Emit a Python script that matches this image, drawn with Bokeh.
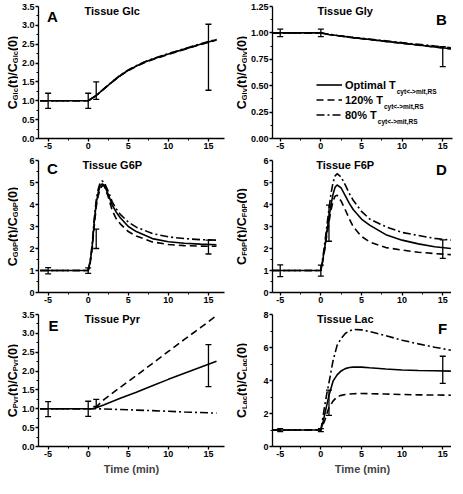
import math
from bokeh.plotting import figure
from bokeh.layouts import gridplot
from bokeh.models import (ColumnDataSource, Whisker, TeeHead, Label, Legend, LegendItem,
                          FixedTicker, PrintfTickFormatter, Range1d)
from bokeh.embed import file_html
from bokeh.resources import INLINE

FONT = "Liberation Sans"

# ---------------- data ----------------
X_TICKS = [-5, 0, 5, 10, 15]
X_MINOR = [-2.5, 2.5, 7.5, 12.5]

# A: Tissue Glc
glc_t = [-6, 0, 1, 2, 3, 4, 5, 6, 7, 8, 10, 12, 14, 16]
glc_opt = [1, 1, 1.14, 1.32, 1.50, 1.67, 1.81, 1.92, 2.02, 2.10, 2.24, 2.37, 2.50, 2.62]
glc_120 = [1, 1, 1.14, 1.32, 1.50, 1.66, 1.80, 1.91, 2.01, 2.09, 2.23, 2.36, 2.49, 2.61]
glc_80 = [1, 1, 1.14, 1.33, 1.51, 1.68, 1.82, 1.93, 2.03, 2.11, 2.25, 2.38, 2.51, 2.63]
glc_err_t = [-5, 0, 1, 15]
glc_err_lo = [0.80, 0.80, 1.04, 1.28]
glc_err_hi = [1.20, 1.20, 1.50, 3.03]

# B: Tissue Gly
gly_t = [-6, 0, 1, 2, 4, 6, 8, 10, 12, 14, 16]
gly_opt = [1, 1, 0.985, 0.975, 0.955, 0.938, 0.920, 0.903, 0.886, 0.868, 0.850]
gly_120 = [1, 1, 0.985, 0.974, 0.954, 0.937, 0.919, 0.901, 0.884, 0.866, 0.848]
gly_80 = [1, 1, 0.986, 0.976, 0.957, 0.941, 0.925, 0.908, 0.892, 0.876, 0.860]
gly_err_t = [-5, 0, 15]
gly_err_lo = [0.965, 0.965, 0.68]
gly_err_hi = [1.035, 1.035, 0.87]

# C: Tissue G6P
g6p_t = [-6, 0, 0.25, 0.5, 0.75, 1, 1.25, 1.5, 1.75, 2, 2.5, 3, 3.5, 4, 5, 6, 8, 10, 12, 14, 16]
g6p_opt = [1, 1, 1.40, 2.10, 3.20, 4.05, 4.55, 4.85, 4.94, 4.88, 4.46, 3.97, 3.65, 3.40, 3.00, 2.77, 2.45, 2.31, 2.24, 2.20, 2.17]
g6p_120 = [1, 1, 1.35, 2.00, 3.00, 3.90, 4.40, 4.72, 4.85, 4.84, 4.35, 3.72, 3.35, 3.12, 2.77, 2.57, 2.30, 2.18, 2.13, 2.11, 2.10]
g6p_80 = [1, 1, 1.45, 2.20, 3.35, 4.20, 4.70, 5.00, 5.07, 5.00, 4.60, 4.12, 3.80, 3.55, 3.20, 2.97, 2.68, 2.53, 2.45, 2.40, 2.38]
g6p_err_t = [-5, 0, 1, 15]
g6p_err_lo = [0.85, 0.87, 2.00, 1.75]
g6p_err_hi = [1.13, 1.12, 2.88, 2.38]

# D: Tissue F6P
f6p_t = [-6, 0, 0.25, 0.5, 0.75, 1, 1.25, 1.5, 1.75, 2, 2.5, 3, 3.5, 4, 5, 6, 8, 10, 12, 14, 16]
f6p_opt = [1, 1, 1.50, 2.10, 2.80, 3.40, 4.00, 4.46, 4.78, 4.89, 4.75, 4.40, 4.05, 3.76, 3.34, 3.06, 2.63, 2.38, 2.21, 2.08, 2.00]
f6p_120 = [1, 1, 1.45, 2.00, 2.65, 3.20, 3.75, 4.15, 4.38, 4.42, 4.15, 3.76, 3.35, 2.98, 2.55, 2.30, 2.04, 1.93, 1.83, 1.77, 1.72]
f6p_80 = [1, 1, 1.60, 2.30, 3.05, 3.80, 4.50, 5.00, 5.30, 5.40, 5.25, 4.89, 4.50, 4.18, 3.69, 3.34, 2.99, 2.73, 2.59, 2.46, 2.38]
f6p_err_t = [-5, 0, 1, 15]
f6p_err_lo = [0.72, 0.74, 2.33, 1.55]
f6p_err_hi = [1.26, 1.24, 3.97, 2.39]

# E: Tissue Pyr
pyr_t = [-6, 0, 0.5, 1, 2, 4, 6, 8, 10, 12, 14, 16]
pyr_opt = [1, 1, 1.00, 1.03, 1.11, 1.28, 1.44, 1.61, 1.78, 1.94, 2.10, 2.26]
pyr_120 = [1, 1, 1.00, 1.05, 1.25, 1.57, 1.88, 2.20, 2.52, 2.84, 3.15, 3.47]
pyr_80 = [1, 1, 1.00, 1.00, 0.995, 0.98, 0.965, 0.95, 0.935, 0.915, 0.90, 0.885]
pyr_err_t = [-5, 0, 1, 15]
pyr_err_lo = [0.79, 0.80, 1.06, 1.59]
pyr_err_hi = [1.19, 1.20, 1.25, 2.70]

# F: Tissue Lac
lac_t = [-6, 0, 0.25, 0.5, 0.75, 1, 1.5, 2, 2.5, 3, 3.5, 4, 5, 6, 8, 10, 12, 14, 16]
lac_opt = [1, 1, 1.45, 2.00, 2.55, 3.10, 3.96, 4.34, 4.58, 4.72, 4.79, 4.81, 4.81, 4.77, 4.70, 4.64, 4.61, 4.59, 4.57]
lac_120 = [1, 1, 1.30, 1.60, 2.00, 2.36, 2.75, 3.02, 3.10, 3.15, 3.18, 3.20, 3.21, 3.20, 3.18, 3.15, 3.13, 3.12, 3.11]
lac_80 = [1, 1, 1.75, 2.55, 3.25, 3.87, 5.20, 6.13, 6.55, 6.85, 7.00, 7.10, 7.07, 6.97, 6.72, 6.44, 6.22, 6.02, 5.83]
lac_err_t = [-5, 0, 1, 15]
lac_err_lo = [0.90, 0.90, 1.89, 3.83]
lac_err_hi = [1.08, 1.08, 3.42, 5.47]

LEGEND_LABELS = ["Optimal T", "120% T", "80% T"]
LEGEND_SUB = "cyt<->mit,RS"

# ---------------- helpers ----------------
AW = {'C': 722, 'G': 778, 'l': 278, 'c': 556, 'y': 556, '(': 333, ')': 333, 't': 333,
      '/': 278, '0': 556, '1': 556, '2': 556, '6': 556, '8': 556, 'P': 667, 'F': 611, 'r': 389,
      'L': 611, 'a': 556, 'O': 778, 'p': 611, 'i': 278, 'm': 889, ' ': 278, 'T': 611, '%': 889}


def text_w(s, size):
    return sum(AW.get(ch, 556) for ch in s) * size / 1000.0


FRAME_H = 132
FRAME_W = [186, 180]
LEFT_B = [16, 22]
RIGHT_B = [5, 2]
BOTTOM_B = [16, 16, 32]
TOP_B = 6
YL_W = 18
YL_MAIN, YL_SUB = 12.5, 7.5
X_RANGES = [(-6.2, 17.0), (-5.95, 16.2)]


def ylabel_fig(row, sub):
    f = figure(frame_width=YL_W, frame_height=FRAME_H, x_range=Range1d(0, 1), y_range=Range1d(0, 1),
               output_backend="svg", toolbar_location=None, tools="",
               x_axis_location=None, y_axis_location=None)
    f.min_border_left = 0
    f.min_border_right = 0
    f.min_border_top = TOP_B
    f.min_border_bottom = BOTTOM_B[row]
    f.outline_line_color = None
    f.grid.visible = False
    parts = [("C", False), (sub, True), ("(t)/C", False), (sub, True), ("(0)", False)]
    sizes = {False: YL_MAIN, True: YL_SUB}
    total = sum(text_w(s, sizes[b]) for s, b in parts)
    yy = FRAME_H / 2 - total / 2
    for s, b in parts:
        f.add_layout(Label(x=12 + (2.5 if b else 0), y=yy, x_units="screen", y_units="screen",
                           text=s, angle=math.pi / 2, text_align="left",
                           text_baseline="alphabetic", text_font=FONT, text_font_style="bold",
                           text_font_size=f"{sizes[b]}px", text_color="black"))
        yy += text_w(s, sizes[b])
    return f


def make_panel(col, row, t, opt, p120, p80, et, elo, ehi, ymax, yticks, yminor, yfmt,
               title, letter, letter_off):
    p = figure(frame_width=FRAME_W[col], frame_height=FRAME_H,
               x_range=Range1d(*X_RANGES[col]), y_range=Range1d(0, ymax),
               output_backend="svg", toolbar_location=None, tools="")
    p.min_border_left = LEFT_B[col]
    p.min_border_right = RIGHT_B[col]
    p.min_border_top = TOP_B
    p.min_border_bottom = BOTTOM_B[row]
    p.outline_line_color = None
    p.grid.visible = False
    p.background_fill_color = "white"
    p.border_fill_color = "white"

    p.xaxis.ticker = FixedTicker(ticks=X_TICKS, minor_ticks=X_MINOR)
    p.xaxis.formatter = PrintfTickFormatter(format="%d")
    p.yaxis.ticker = FixedTicker(ticks=yticks, minor_ticks=yminor)
    p.yaxis.formatter = PrintfTickFormatter(format=yfmt)
    for ax in (p.xaxis[0], p.yaxis[0]):
        ax.axis_line_width = 1.3
        ax.axis_line_color = "black"
        ax.major_tick_line_width = 1.3
        ax.minor_tick_line_width = 1
        ax.major_tick_in = 0
        ax.major_tick_out = 3
        ax.minor_tick_in = 0
        ax.minor_tick_out = 2
        ax.major_label_standoff = 1
        ax.major_label_text_font = FONT
        ax.major_label_text_font_style = "bold"
        ax.major_label_text_font_size = "9px"
        ax.major_label_text_color = "black"
    if row == 2:
        p.xaxis.axis_label = "Time (min)"
        p.xaxis.axis_label_text_font = FONT
        p.xaxis.axis_label_text_font_style = "bold"
        p.xaxis.axis_label_text_font_size = "11px"
        p.xaxis.axis_label_standoff = 3

    src = ColumnDataSource(dict(t=t, opt=opt, p120=p120, p80=p80))
    r1 = p.line("t", "opt", source=src, line_color="black", line_width=1.6)
    r2 = p.line("t", "p120", source=src, line_color="black", line_width=1.6, line_dash="7 4")
    r3 = p.line("t", "p80", source=src, line_color="black", line_width=1.6, line_dash="8 3 2 3")

    esrc = ColumnDataSource(dict(base=et, lower=elo, upper=ehi))
    p.add_layout(Whisker(source=esrc, base="base", lower="lower", upper="upper",
                         dimension="height", line_color="black", line_width=1.3,
                         upper_head=TeeHead(size=6, line_width=1.3, line_color="black"),
                         lower_head=TeeHead(size=6, line_width=1.3, line_color="black")))

    p.add_layout(Label(x=3, y=FRAME_H - 4, x_units="data", y_units="screen", text=title,
                       text_align="center", text_baseline="middle", text_font=FONT,
                       text_font_style="bold", text_font_size="11px", text_color="black"))
    lx, ly = letter_off
    if lx < 0:
        lx = FRAME_W[col] + lx
    p.add_layout(Label(x=lx, y=FRAME_H - ly, x_units="screen", y_units="screen", text=letter,
                       text_align="center", text_baseline="middle", text_font=FONT,
                       text_font_style="bold", text_font_size="15px", text_color="black"))
    return p, (r1, r2, r3)


pA, _ = make_panel(0, 0, glc_t, glc_opt, glc_120, glc_80, glc_err_t, glc_err_lo, glc_err_hi,
                   3.5, [0, 0.5, 1, 1.5, 2, 2.5, 3, 3.5], [0.25, 0.75, 1.25, 1.75, 2.25, 2.75, 3.25],
                   "%.1f", "Tissue Glc", "A", (14, 10))
pB, rB = make_panel(1, 0, gly_t, gly_opt, gly_120, gly_80, gly_err_t, gly_err_lo, gly_err_hi,
                    1.25, [0, 0.25, 0.5, 0.75, 1.0, 1.25], [0.125, 0.375, 0.625, 0.875, 1.125],
                    "%.2f", "Tissue Gly", "B", (-11, 13))
pC, _ = make_panel(0, 1, g6p_t, g6p_opt, g6p_120, g6p_80, g6p_err_t, g6p_err_lo, g6p_err_hi,
                   6, [0, 1, 2, 3, 4, 5, 6], [0.5, 1.5, 2.5, 3.5, 4.5, 5.5],
                   "%d", "Tissue G6P", "C", (14, 8))
pD, _ = make_panel(1, 1, f6p_t, f6p_opt, f6p_120, f6p_80, f6p_err_t, f6p_err_lo, f6p_err_hi,
                   6, [0, 1, 2, 3, 4, 5, 6], [0.5, 1.5, 2.5, 3.5, 4.5, 5.5],
                   "%d", "Tissue F6P", "D", (-11, 9))
pE, _ = make_panel(0, 2, pyr_t, pyr_opt, pyr_120, pyr_80, pyr_err_t, pyr_err_lo, pyr_err_hi,
                   3.5, [0, 0.5, 1, 1.5, 2, 2.5, 3, 3.5], [0.25, 0.75, 1.25, 1.75, 2.25, 2.75, 3.25],
                   "%.1f", "Tissue Pyr", "E", (15, 11))
pF, _ = make_panel(1, 2, lac_t, lac_opt, lac_120, lac_80, lac_err_t, lac_err_lo, lac_err_hi,
                   8, [0, 2, 4, 6, 8], [1, 3, 5, 7],
                   "%d", "Tissue Lac", "F", (-10, 14))

# legend in panel B
LEG_X, LEG_TOP = 44, 71
GW, ROW_H, SP, STANDOFF = 26, 15, 0, 3
leg = Legend(items=[LegendItem(label=lab, renderers=[r]) for lab, r in zip(LEGEND_LABELS, rB)],
             location=(LEG_X, FRAME_H - LEG_TOP - 3 * ROW_H),
             orientation="vertical", padding=0, margin=0, spacing=SP,
             glyph_width=GW, glyph_height=ROW_H, label_height=ROW_H, label_standoff=STANDOFF,
             label_text_font=FONT, label_text_font_style="bold", label_text_font_size="11px",
             label_text_color="black", border_line_color=None, background_fill_alpha=0)
pB.add_layout(leg)
for i, lab in enumerate(LEGEND_LABELS):
    cx = LEG_X + GW + STANDOFF + text_w(lab, 11) + 0.5
    cy = FRAME_H - (LEG_TOP + i * ROW_H + ROW_H / 2 + 6)
    pB.add_layout(Label(x=cx, y=cy, x_units="screen", y_units="screen", text=LEGEND_SUB,
                        text_align="left", text_baseline="alphabetic", text_font=FONT,
                        text_font_style="bold", text_font_size="6.5px", text_color="black"))

grid = gridplot([[ylabel_fig(0, "Glc"), pA, ylabel_fig(0, "Gly"), pB],
                 [ylabel_fig(1, "G6P"), pC, ylabel_fig(1, "F6P"), pD],
                 [ylabel_fig(2, "Pyr"), pE, ylabel_fig(2, "Lac"), pF]],
                toolbar_location=None)

with open("out.html", "w") as f:
    f.write(file_html(grid, INLINE))
